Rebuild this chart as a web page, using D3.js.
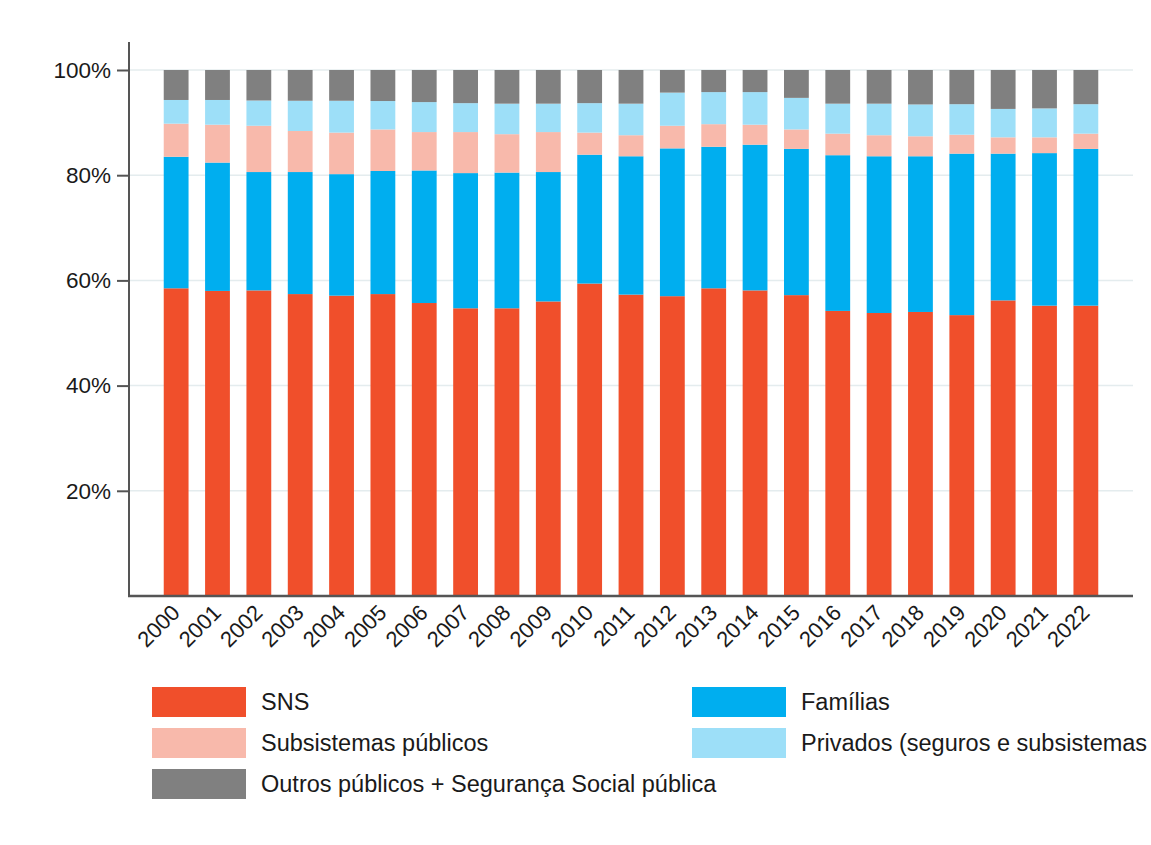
<!DOCTYPE html>
<html>
<head>
<meta charset="utf-8">
<script src="https://cdn.jsdelivr.net/npm/d3@7"></script>
<style>
body { margin: 0; background: #fff; overflow: hidden; }
text { font-family: "Liberation Sans", Arial, sans-serif; fill: #1a1a1a; }
</style>
</head>
<body>
<svg id="chart"></svg>
<script>
// anos e séries (% da despesa corrente em saúde)
var years = ["2000","2001","2002","2003","2004","2005","2006","2007","2008","2009","2010","2011",
             "2012","2013","2014","2015","2016","2017","2018","2019","2020","2021","2022"];
var sns       = [58.5,58.0,58.1,57.4,57.1,57.4,55.7,54.7,54.7,56.0,59.4,57.3,57.0,58.5,58.1,57.2,54.2,53.8,54.0,53.4,56.2,55.2,55.2];
var familias  = [25.0,24.4,22.5,23.2,23.1,23.4,25.2,25.7,25.8,24.6,24.5,26.3,28.1,26.9,27.7,27.8,29.6,29.8,29.6,30.7,27.9,29.0,29.8];
var subsist   = [6.3,7.2,8.8,7.8,7.9,7.9,7.3,7.8,7.3,7.6,4.2,4.0,4.3,4.3,3.8,3.7,4.1,4.0,3.8,3.6,3.1,3.0,2.9];
var privados  = [4.5,4.7,4.8,5.75,6.05,5.4,5.7,5.5,5.8,5.4,5.6,6.0,6.3,6.1,6.2,6.0,5.7,6.0,6.05,5.8,5.4,5.5,5.6];
var outros    = [5.7,5.7,5.8,5.85,5.85,5.9,6.1,6.3,6.4,6.4,6.3,6.4,4.3,4.2,4.2,5.3,6.4,6.4,6.55,6.5,7.4,7.3,6.5];
var yTicks = [20,40,60,80,100];

var colors = {"SNS":"#f04f2b","Famílias":"#00aeef","Subsistemas públicos":"#f8b9ab","Privados (seguros e subsistemas":"#9ddff8","Outros públicos + Segurança Social pública":"#808080"};

var width = 1151, height = 845;

var svg = d3.select("#chart")
    .attr("width", width)
    .attr("height", height);

var table = years.map(function(y, i) {
  return {year: y, SNS: sns[i], "Famílias": familias[i], "Subsistemas públicos": subsist[i],
          "Privados (seguros e subsistemas": privados[i], "Outros públicos + Segurança Social pública": outros[i]};
});

// ordem de empilhamento (de baixo para cima)
var stackKeys = ["SNS","Famílias","Subsistemas públicos","Privados (seguros e subsistemas","Outros públicos + Segurança Social pública"];
var stacked = d3.stack().keys(stackKeys)(table);

var x = d3.scaleBand()
    .domain(years)
    .range([129, 1133])
    .paddingInner(0.4)
    .paddingOuter(0.84);

var y = d3.scaleLinear()
    .domain([0, 100])
    .range([596, 70]);

// grelha
svg.append("g").selectAll("line")
    .data(yTicks)
  .enter().append("line")
    .attr("x1", 129).attr("x2", 1133)
    .attr("y1", function(d) { return y(d); })
    .attr("y2", function(d) { return y(d); })
    .style("stroke", "#e4ecee")
    .style("stroke-width", 1.5);

// barras
svg.append("g").selectAll("g")
    .data(stacked)
  .enter().append("g")
    .style("fill", function(d) { return colors[d.key]; })
  .selectAll("rect")
    .data(function(d) { return d; })
  .enter().append("rect")
    .attr("x", function(d) { return x(d.data.year); })
    .attr("width", x.bandwidth())
    .attr("y", function(d) { return y(d[1]); })
    .attr("height", function(d) { return y(d[0]) - y(d[1]); });

// eixo y
var yAxis = d3.axisLeft(y)
    .tickValues(yTicks)
    .tickSize(12)
    .tickPadding(6)
    .tickFormat(function(d) { return d + "%"; });

var gy = svg.append("g")
    .attr("transform", "translate(129,0)")
    .call(yAxis);
gy.select(".domain").remove();
gy.selectAll("line").style("stroke", "#555").style("stroke-width", 2);
gy.selectAll("text").style("font-size", "22.5px").style("fill", "#1a1a1a");
gy.append("line")
    .attr("x1", 0).attr("x2", 0)
    .attr("y1", 42).attr("y2", 596)
    .style("stroke", "#555").style("stroke-width", 2);

// eixo x
var gx = svg.append("g")
    .attr("transform", "translate(0,596)")
    .call(d3.axisBottom(x).tickSize(0).tickPadding(0));
gx.select(".domain").remove();
gx.append("line")
    .attr("x1", 128).attr("x2", 1133)
    .style("stroke", "#555").style("stroke-width", 2.5);
gx.selectAll(".tick text")
    .style("font-size", "22px")
    .style("fill", "#1a1a1a")
    .attr("text-anchor", "end")
    .attr("dy", 0)
    .attr("y", 0)
    .attr("transform", "translate(5,18) rotate(-45)");

// legenda
var legendItems = [
  {name: "SNS", col: 0, row: 0},
  {name: "Subsistemas públicos", col: 0, row: 1},
  {name: "Outros públicos + Segurança Social pública", col: 0, row: 2},
  {name: "Famílias", col: 1, row: 0},
  {name: "Privados (seguros e subsistemas", col: 1, row: 1}
];
var legend = svg.append("g").attr("transform", "translate(152,687)");
var li = legend.selectAll("g")
    .data(legendItems)
  .enter().append("g")
    .attr("transform", function(d) { return "translate(" + (d.col * 540) + "," + (d.row * 41) + ")"; });
li.append("rect")
    .attr("width", 94)
    .attr("height", 30)
    .style("fill", function(d) { return colors[d.name]; });
li.append("text")
    .attr("x", 109)
    .attr("y", 15)
    .attr("dy", "0.36em")
    .style("font-size", "23.5px")
    .text(function(d) { return d.name; });
</script>
</body>
</html>
